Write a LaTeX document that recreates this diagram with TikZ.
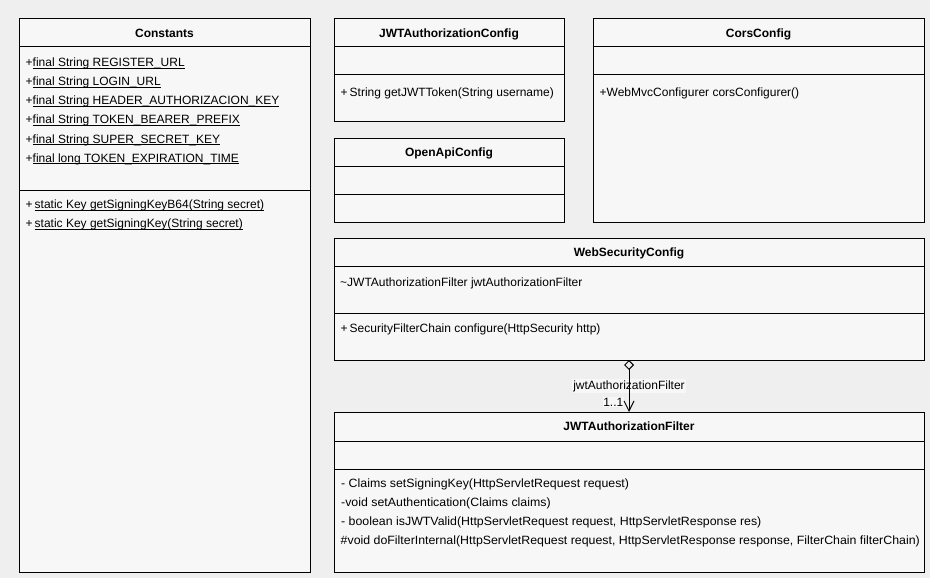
\documentclass[tikz,border=0pt]{standalone}
\usepackage{fontspec}
\setmainfont{Liberation Sans}
\usetikzlibrary{arrows.meta}

\definecolor{canvas}{HTML}{EFEFEF}
\definecolor{boxfill}{HTML}{F7F7F7}

% underline that sits just under the baseline, through the descenders
\newcommand\ulmember[1]{\setbox0=\hbox{#1}\rlap{\rule[-2.1pt]{\wd0}{1pt}}\box0}
% slightly wider setting for the long operation signatures
\newcommand\widesig[1]{\scalebox{1.03}[1]{#1}}

\tikzset{
  umlbox/.style={draw=black, line width=1pt, fill=boxfill, inner sep=0pt,
                 outer sep=0pt, anchor=north west},
  classname/.style={font=\fontsize{12}{14}\selectfont\bfseries, inner sep=0pt, anchor=base},
  member/.style={font=\fontsize{12}{14}\selectfont, inner sep=0pt, anchor=base west},
  compartment/.style={line width=1pt},
  assoc/.style={line width=1pt,
    {Diamond[open,length=10pt,width=10pt]}-{Straight Barb[length=10pt,width=10pt]}},
  rolelabel/.style={font=\fontsize{12}{14}\selectfont, fill=boxfill, inner sep=1pt},
}

\begin{document}
\begin{tikzpicture}[x=1pt,y=-1pt]
  \fill[canvas] (0,0) rectangle (930,578);
  \useasboundingbox (0,0) rectangle (930,578);

  % ---------------- Constants ----------------
  \node[umlbox, minimum width=291pt, minimum height=553pt] (constants) at (19,19) {};
  \draw[compartment] ([yshift=-28pt]constants.north west) -- ([yshift=-28pt]constants.north east);
  \draw[compartment] ([yshift=-171pt]constants.north west) -- ([yshift=-171pt]constants.north east);
  \node[classname] (constants-name) at ([yshift=-18.5pt]constants.north) {Constants};
  \node[member] (constants-a1) at (25.5,67)  {+\ulmember{final String REGISTER\_URL}};
  \node[member] (constants-a2) at (25.5,86)  {+\ulmember{final String LOGIN\_URL}};
  \node[member] (constants-a3) at (25.5,105) {+\ulmember{final String HEADER\_AUTHORIZACION\_KEY}};
  \node[member] (constants-a4) at (25.5,124) {+\ulmember{final String TOKEN\_BEARER\_PREFIX}};
  \node[member] (constants-a5) at (25.5,143) {+\ulmember{final String SUPER\_SECRET\_KEY}};
  \node[member] (constants-a6) at (25.5,162) {+\ulmember{final long TOKEN\_EXPIRATION\_TIME}};
  \node[member] (constants-m1) at (25.5,208.5) {+\,\ulmember{static Key getSigningKeyB64(String secret)}};
  \node[member] (constants-m2) at (25.5,227.5) {+\,\ulmember{static Key getSigningKey(String secret)}};

  % ---------------- JWTAuthorizationConfig ----------------
  \node[umlbox, minimum width=230pt, minimum height=103pt] (jwtconfig) at (334,19) {};
  \draw[compartment] ([yshift=-28pt]jwtconfig.north west) -- ([yshift=-28pt]jwtconfig.north east);
  \draw[compartment] ([yshift=-56pt]jwtconfig.north west) -- ([yshift=-56pt]jwtconfig.north east);
  \node[classname] (jwtconfig-name) at ([yshift=-18.5pt]jwtconfig.north) {JWTAuthorizationConfig};
  \node[member] (jwtconfig-m1) at (340.5,96) {+\,String getJWTToken(String username)};

  % ---------------- OpenApiConfig ----------------
  \node[umlbox, minimum width=230pt, minimum height=84pt] (openapi) at (334,138) {};
  \draw[compartment] ([yshift=-28pt]openapi.north west) -- ([yshift=-28pt]openapi.north east);
  \draw[compartment] ([yshift=-56pt]openapi.north west) -- ([yshift=-56pt]openapi.north east);
  \node[classname] (openapi-name) at ([yshift=-18.5pt]openapi.north) {OpenApiConfig};

  % ---------------- CorsConfig ----------------
  \node[umlbox, minimum width=331pt, minimum height=203pt] (cors) at (593,19) {};
  \draw[compartment] ([yshift=-28pt]cors.north west) -- ([yshift=-28pt]cors.north east);
  \draw[compartment] ([yshift=-56pt]cors.north west) -- ([yshift=-56pt]cors.north east);
  \node[classname] (cors-name) at ([yshift=-18.5pt]cors.north) {CorsConfig};
  \node[member] (cors-m1) at (599.5,96) {+WebMvcConfigurer corsConfigurer()};

  % ---------------- WebSecurityConfig ----------------
  \node[umlbox, minimum width=590pt, minimum height=122pt] (websec) at (334,238) {};
  \draw[compartment] ([yshift=-28.5pt]websec.north west) -- ([yshift=-28.5pt]websec.north east);
  \draw[compartment] ([yshift=-75.5pt]websec.north west) -- ([yshift=-75.5pt]websec.north east);
  \node[classname] (websec-name) at ([yshift=-18.5pt]websec.north) {WebSecurityConfig};
  \node[member] (websec-a1) at (340,286) {\textasciitilde JWTAuthorizationFilter jwtAuthorizationFilter};
  \node[member] (websec-m1) at (340.5,332.5) {+\,SecurityFilterChain configure(HttpSecurity http)};

  % ---------------- JWTAuthorizationFilter ----------------
  \node[umlbox, minimum width=590pt, minimum height=160pt] (filter) at (334,412) {};
  \draw[compartment] ([yshift=-29pt]filter.north west) -- ([yshift=-29pt]filter.north east);
  \draw[compartment] ([yshift=-57pt]filter.north west) -- ([yshift=-57pt]filter.north east);
  \node[classname] (filter-name) at ([yshift=-18.5pt]filter.north) {JWTAuthorizationFilter};
  \node[member] (filter-m1) at (341,487.5) {\widesig{- Claims setSigningKey(HttpServletRequest request)}};
  \node[member] (filter-m2) at (341,506.5) {\widesig{-void setAuthentication(Claims claims)}};
  \node[member] (filter-m3) at (341,525.5) {\widesig{- boolean isJWTValid(HttpServletRequest request, HttpServletResponse res)}};
  \node[member] (filter-m4) at (340.5,544.5) {\widesig{\#void doFilterInternal(HttpServletRequest request, HttpServletResponse response, FilterChain filterChain)}};

  % ---------------- aggregation: labels first, line drawn over them ----------------
  \path (websec.south) -- (filter.north)
    node[rolelabel, pos=0.5] (role) {jwtAuthorizationFilter};
  \node[member, anchor=base east, fill=boxfill, inner sep=0.5pt] (mult) at (624,406) {1..1};
  \draw[assoc] (websec.south) -- (filter.north);
\end{tikzpicture}
\end{document}
